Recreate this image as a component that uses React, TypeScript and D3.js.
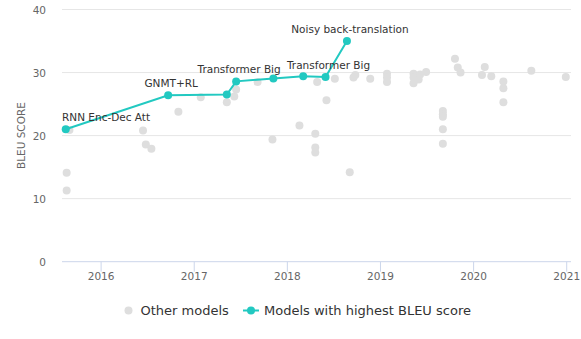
import React from "react";
import * as d3 from "d3";

// Other models: decimal year and BLEU score
const otherYears = [
  2015.66, 2015.63, 2015.63, 2016.45, 2016.48, 2016.54, 2016.83, 2017.07, 2017.35, 2017.43,
  2017.45, 2017.68, 2017.84, 2018.13, 2018.3, 2018.3, 2018.3, 2018.32, 2018.42, 2018.51,
  2018.67, 2018.71, 2018.73, 2018.89, 2019.07, 2019.07, 2019.07, 2019.355, 2019.355, 2019.355,
  2019.41, 2019.425, 2019.49, 2019.67, 2019.67, 2019.67, 2019.67, 2019.67, 2019.8, 2019.83,
  2019.86, 2020.09, 2020.12, 2020.19, 2020.32, 2020.32, 2020.32, 2020.62, 2020.99,
];
const otherScores = [
  20.9, 14.1, 11.3, 20.8, 18.6, 17.9, 23.8, 26.1, 25.3, 26.2,
  27.3, 28.5, 19.4, 21.6, 20.3, 18.1, 17.3, 28.5, 25.6, 29.0,
  14.2, 29.2, 29.6, 29.0, 29.8, 29.2, 28.5, 29.8, 29.2, 28.3,
  28.9, 29.7, 30.1, 23.9, 23.4, 23.0, 21.0, 18.7, 32.2, 30.8,
  30.0, 29.6, 30.9, 29.4, 28.6, 27.5, 25.3, 30.3, 29.3,
];

// Models with highest BLEU score
const bestYears = [2015.62, 2016.72, 2017.35, 2017.45, 2017.85, 2018.17, 2018.41, 2018.64];
const bestScores = [21.0, 26.4, 26.5, 28.6, 29.05, 29.4, 29.3, 35.0];
const bestLabels = [
  "RNN Enc-Dec Att",
  "GNMT+RL",
  "",
  "Transformer Big",
  "",
  "",
  "Transformer Big",
  "Noisy back-translation",
];

const yTicks = [0, 10, 20, 30, 40];
const xTicks = [2016, 2017, 2018, 2019, 2020, 2021];

const W = 581;
const H = 339;
const TEAL = "#22c9c1";
const GREY = "#dedede";
const FONT = "'DejaVu Sans', Verdana, sans-serif";

export default function App() {
  const left = 62;
  const right = 571;
  const top = 9.5;
  const bottom = 261.7;
  const x = d3.scaleLinear().domain([2015.58, 2021.046]).range([left, right]);
  const y = d3.scaleLinear().domain([0, 40]).range([bottom, top]);

  const bestPts = bestYears.map((yr, i) => ({ yr, v: bestScores[i], label: bestLabels[i] }));
  const line = d3
    .line<{ yr: number; v: number }>()
    .x((d) => x(d.yr))
    .y((d) => y(d.v));

  return (
    <svg
      width={W}
      height={H}
      style={{ position: "absolute", left: 0, top: 0, fontFamily: FONT }}
    >
      <rect x={0} y={0} width={W} height={H} fill="#fff" />
      {/* gridlines */}
      {yTicks
        .filter((t) => t > 0)
        .map((t) => (
          <line key={t} x1={left} x2={right} y1={y(t)} y2={y(t)} stroke="#e6e6e6" strokeWidth={1} />
        ))}
      {/* y labels */}
      {yTicks.map((t) => (
        <text key={t} x={46} y={y(t) + 4} textAnchor="end" fontSize={10.5} fill="#666">
          {t}
        </text>
      ))}
      <text
        transform={`translate(25,${(top + bottom) / 2}) rotate(-90)`}
        textAnchor="middle"
        fontSize={10.5}
        fill="#666"
      >
        BLEU SCORE
      </text>
      {/* x axis */}
      <line x1={left} x2={right} y1={bottom} y2={bottom} stroke="#ccd6eb" strokeWidth={1} />
      {xTicks.map((t) => (
        <g key={t}>
          <line x1={x(t)} x2={x(t)} y1={bottom} y2={bottom + 10} stroke="#ccd6eb" strokeWidth={1} />
          <text x={x(t)} y={280} textAnchor="middle" fontSize={10.5} fill="#666">
            {t}
          </text>
        </g>
      ))}
      {/* other models */}
      {otherYears.map((yr, i) => (
        <circle key={i} cx={x(yr)} cy={y(otherScores[i])} r={4} fill={GREY} />
      ))}
      {/* best line */}
      <path d={line(bestPts) || ""} fill="none" stroke={TEAL} strokeWidth={2} />
      {bestPts.map((d, i) => (
        <circle key={i} cx={x(d.yr)} cy={y(d.v)} r={4} fill={TEAL} />
      ))}
      {bestPts.map((d, i) =>
        d.label ? (
          <text
            key={"l" + i}
            x={i === 0 ? left : x(d.yr) + 3}
            y={y(d.v) - 8}
            textAnchor={i === 0 ? "start" : "middle"}
            fontSize={10.5}
            fill="#333"
          >
            {d.label}
          </text>
        ) : null
      )}
      {/* legend */}
      <circle cx={128.5} cy={310.5} r={4} fill={GREY} />
      <text x={140.5} y={315} fontSize={13} fill="#333">
        Other models
      </text>
      <line x1={243} x2={259} y1={310.5} y2={310.5} stroke={TEAL} strokeWidth={2} />
      <circle cx={251} cy={310.5} r={4} fill={TEAL} />
      <text x={264} y={315} fontSize={13} fill="#333">
        Models with highest BLEU score
      </text>
    </svg>
  );
}
